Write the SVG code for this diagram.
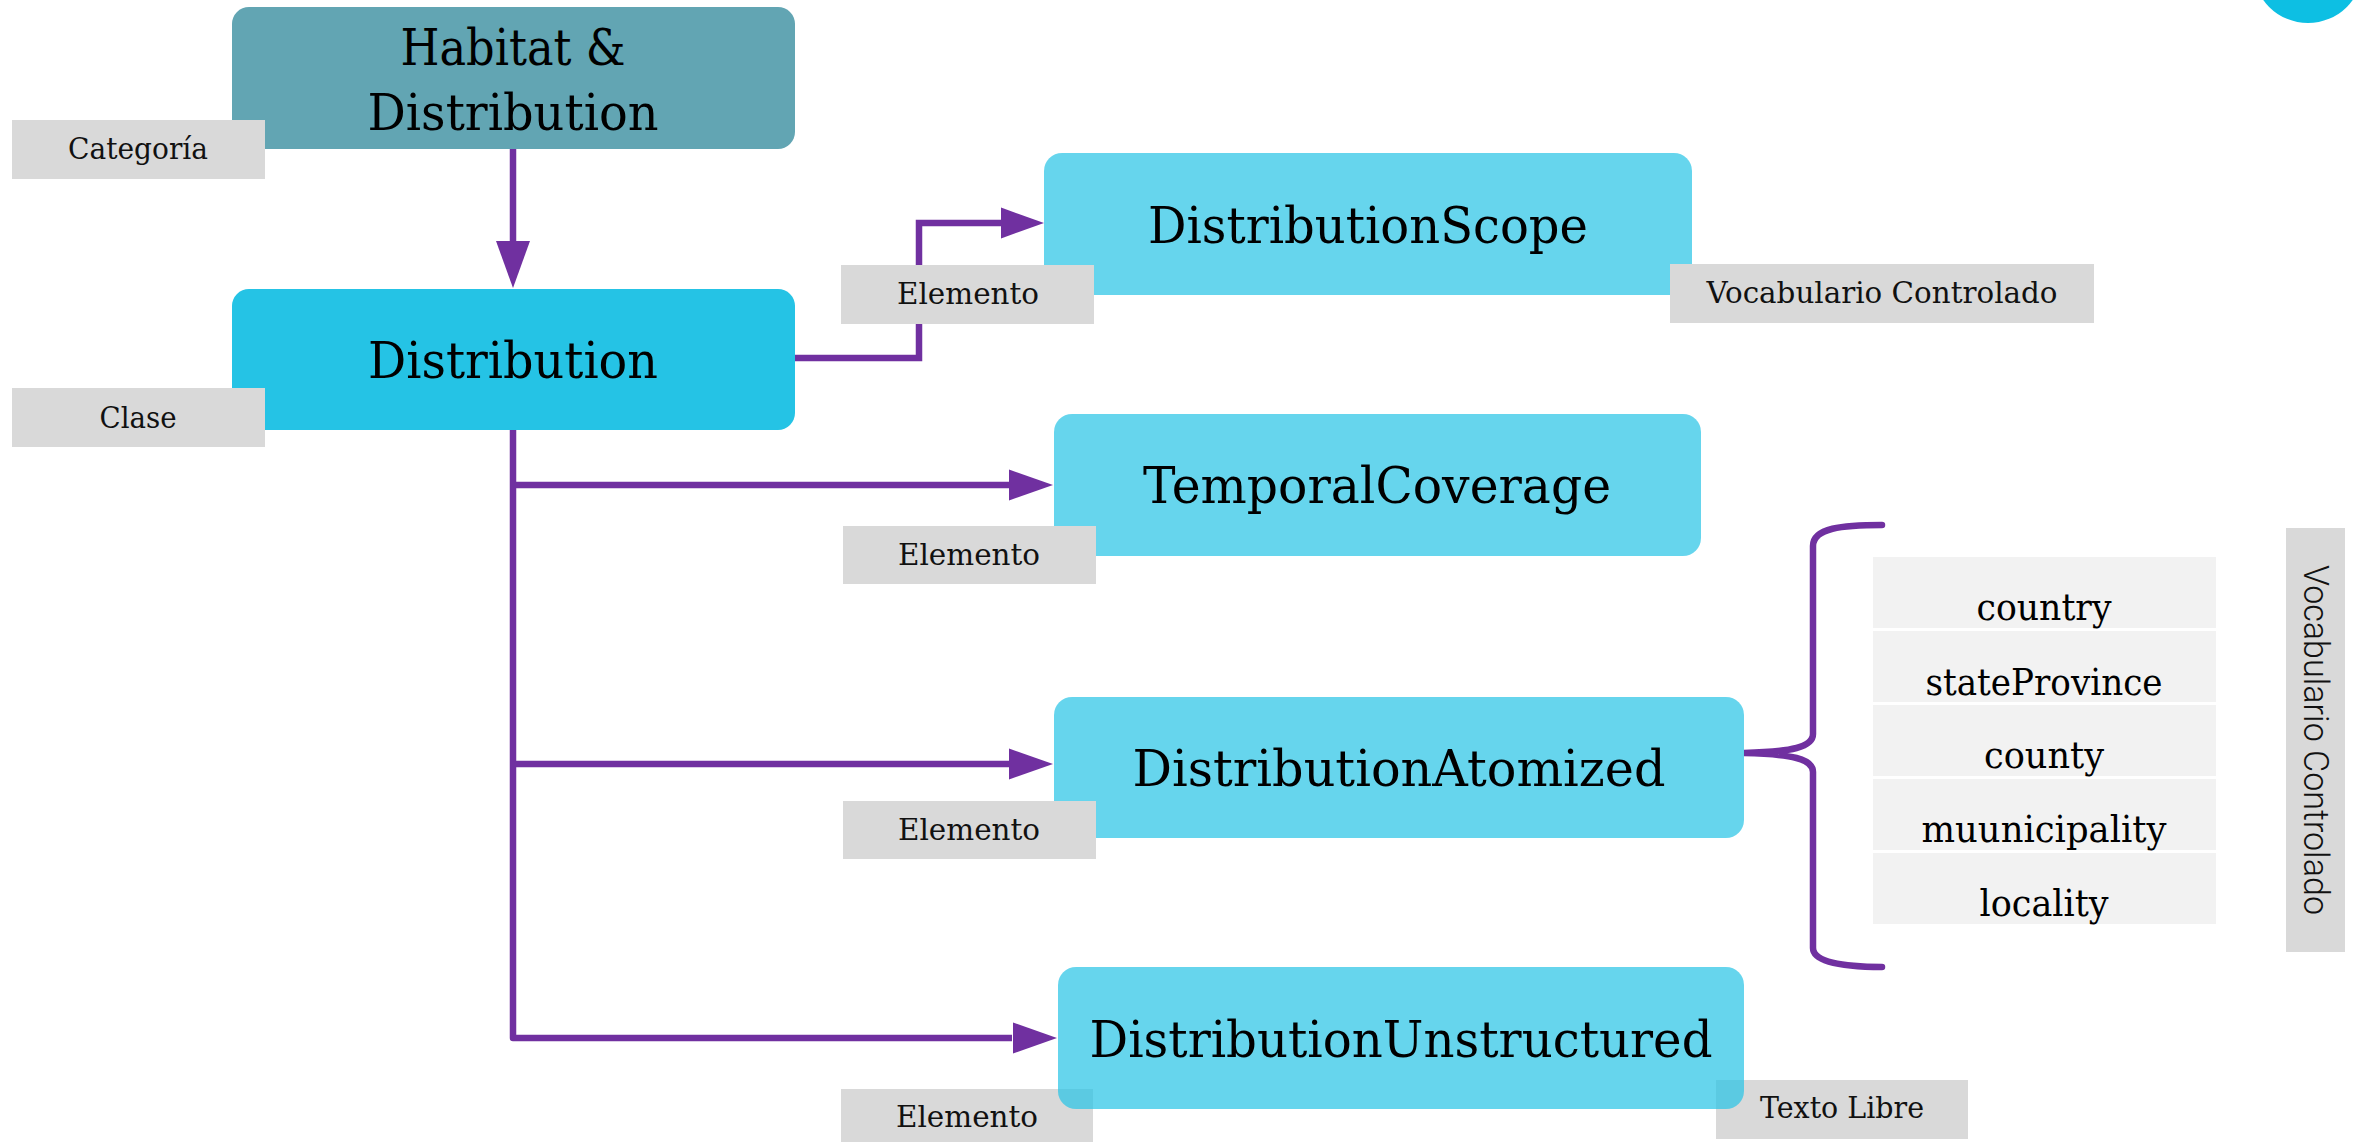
<svg xmlns="http://www.w3.org/2000/svg" width="2361" height="1142" viewBox="0 0 2361 1142">
  <style>
    .cat { fill: #62a5b3; }
    .cls { fill: #25c3e5; }
    .elem { fill: #25c3e5; fill-opacity: 0.7; }
    .tag { fill: #d9d9d9; }
    .row { fill: #f2f2f2; }
    .big { font-family: "DejaVu Serif", "Liberation Serif", serif; font-size: 50px; fill: #000; text-anchor: middle; }
    .small { font-family: "DejaVu Serif", "Liberation Serif", serif; font-size: 30px; fill: #111; text-anchor: middle; }
    .item { font-family: "DejaVu Serif", "Liberation Serif", serif; font-size: 37px; fill: #000; text-anchor: middle; }
    .vert { font-family: Roboto, "Liberation Sans", sans-serif; font-weight: 300; font-size: 35px; fill: #111; text-anchor: middle; }
    .line { fill: none; stroke: #7030a0; stroke-width: 6.5; }
    .head { fill: #7030a0; }
  </style>

  <circle cx="2308" cy="-32" r="55" fill="#0dbfe3"/>

  <g id="connectors">
    <line class="line" x1="513" y1="148" x2="513" y2="243"/>
    <polygon class="head" points="496,241 530,241 513,288"/>
    <polyline class="line" points="795,358 919,358 919,223 1003,223"/>
    <polygon class="head" points="1001,207.5 1001,238.5 1044,223"/>
    <polyline class="line" points="513,430 513,1038 1012,1038" stroke-linejoin="round"/>
    <line class="line" x1="513" y1="485" x2="1011" y2="485"/>
    <polygon class="head" points="1009,469.5 1009,500.5 1053,485"/>
    <line class="line" x1="513" y1="764" x2="1011" y2="764"/>
    <polygon class="head" points="1009,748.5 1009,779.5 1053,764"/>
    <polygon class="head" points="1013,1022.5 1013,1053.5 1057,1038"/>
    <path class="line" stroke-width="5" stroke-linecap="round" d="M1882,525 C1842,525 1813,528 1813,546 L1813,734 C1813,747 1792,752 1744,753 C1792,754 1813,759 1813,772 L1813,948 C1813,962 1842,967 1882,967"/>
  </g>

  <g id="habitat">
    <rect class="cat" x="232" y="7" width="563" height="142" rx="17"/>
    <text class="big" x="513" y="65" textLength="225" lengthAdjust="spacingAndGlyphs">Habitat &amp;</text>
    <text class="big" x="513" y="130" textLength="291" lengthAdjust="spacingAndGlyphs">Distribution</text>
  </g>
  <g id="tag-categoria">
    <rect class="tag" x="12" y="120" width="253" height="59"/>
    <text class="small" x="138" y="159" textLength="140" lengthAdjust="spacingAndGlyphs">Categoría</text>
  </g>

  <g id="distribution">
    <rect class="cls" x="232" y="289" width="563" height="141" rx="17"/>
    <text class="big" x="513" y="378" textLength="290" lengthAdjust="spacingAndGlyphs">Distribution</text>
  </g>
  <g id="tag-clase">
    <rect class="tag" x="12" y="388" width="253" height="59"/>
    <text class="small" x="138" y="428" textLength="77" lengthAdjust="spacingAndGlyphs">Clase</text>
  </g>

  <g id="distributionScope">
    <rect class="elem" x="1044" y="153" width="648" height="142" rx="18"/>
    <text class="big" x="1368" y="243" textLength="440" lengthAdjust="spacingAndGlyphs">DistributionScope</text>
  </g>
  <g id="tag-scope-elemento">
    <rect class="tag" x="841" y="265" width="253" height="59"/>
    <text class="small" x="968" y="304" textLength="142" lengthAdjust="spacingAndGlyphs">Elemento</text>
  </g>
  <g id="tag-scope-vocab">
    <rect class="tag" x="1670" y="264" width="424" height="59"/>
    <text class="small" x="1882" y="303" textLength="351" lengthAdjust="spacingAndGlyphs">Vocabulario Controlado</text>
  </g>

  <g id="temporalCoverage">
    <rect class="elem" x="1054" y="414" width="647" height="142" rx="18"/>
    <text class="big" x="1377" y="503" textLength="468" lengthAdjust="spacingAndGlyphs">TemporalCoverage</text>
  </g>
  <g id="tag-temporal-elemento">
    <rect class="tag" x="843" y="526" width="253" height="58"/>
    <text class="small" x="969" y="565" textLength="142" lengthAdjust="spacingAndGlyphs">Elemento</text>
  </g>

  <g id="distributionAtomized">
    <rect class="elem" x="1054" y="697" width="690" height="141" rx="18"/>
    <text class="big" x="1399" y="786" textLength="533" lengthAdjust="spacingAndGlyphs">DistributionAtomized</text>
  </g>
  <g id="tag-atomized-elemento">
    <rect class="tag" x="843" y="801" width="253" height="58"/>
    <text class="small" x="969" y="840" textLength="142" lengthAdjust="spacingAndGlyphs">Elemento</text>
  </g>

  <g id="tag-unstructured-elemento">
    <rect class="tag" x="841" y="1089" width="252" height="59"/>
    <text class="small" x="967" y="1127" textLength="142" lengthAdjust="spacingAndGlyphs">Elemento</text>
  </g>
  <g id="tag-texto-libre">
    <rect class="tag" x="1716" y="1080" width="252" height="59"/>
    <text class="small" x="1842" y="1118" textLength="164" lengthAdjust="spacingAndGlyphs">Texto Libre</text>
  </g>
  <g id="distributionUnstructured">
    <rect class="elem" x="1058" y="967" width="686" height="142" rx="18"/>
    <text class="big" x="1401" y="1057" textLength="623" lengthAdjust="spacingAndGlyphs">DistributionUnstructured</text>
  </g>

  <g id="vocab-list">
    <rect class="row" x="1873" y="557" width="343" height="71"/>
    <text class="item" x="2044" y="620" textLength="135" lengthAdjust="spacingAndGlyphs">country</text>
    <rect class="row" x="1873" y="631" width="343" height="71"/>
    <text class="item" x="2044" y="695" textLength="237" lengthAdjust="spacingAndGlyphs">stateProvince</text>
    <rect class="row" x="1873" y="705" width="343" height="71"/>
    <text class="item" x="2044" y="768" textLength="120" lengthAdjust="spacingAndGlyphs">county</text>
    <rect class="row" x="1873" y="779" width="343" height="71"/>
    <text class="item" x="2044" y="842" textLength="245" lengthAdjust="spacingAndGlyphs">muunicipality</text>
    <rect class="row" x="1873" y="853" width="343" height="71"/>
    <text class="item" x="2044" y="916" textLength="129" lengthAdjust="spacingAndGlyphs">locality</text>
  </g>

  <g id="tag-list-vocab">
    <rect class="tag" x="2286" y="528" width="59" height="424"/>
    <text class="vert" transform="translate(2304,740) rotate(90)" x="0" y="0" textLength="350" lengthAdjust="spacingAndGlyphs">Vocabulario Controlado</text>
  </g>
</svg>
